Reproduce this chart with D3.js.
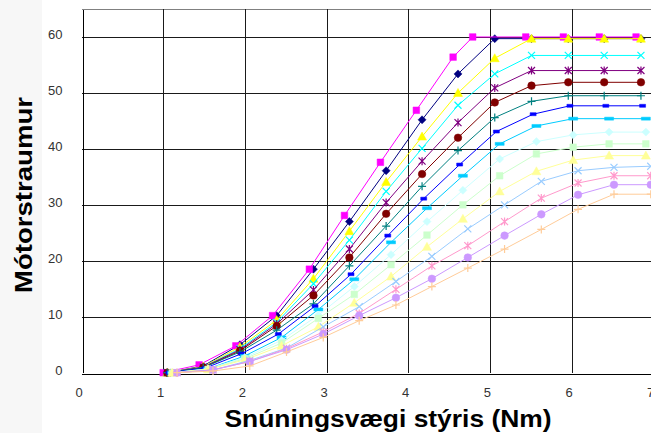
<!DOCTYPE html>
<html>
<head>
<meta charset="utf-8">
<script src="https://cdn.jsdelivr.net/npm/d3@7"></script>
<style>
  body { margin: 0; background: #fff; }
  svg { display: block; }
  .tick text { font-family: "Liberation Sans", Arial, sans-serif; font-size: 13px; fill: #333; }
  .title { font-family: "Liberation Sans", Arial, sans-serif; font-weight: bold; font-size: 24px; fill: #000; }
</style>
</head>
<body>
<svg id="chart" width="651" height="433"></svg>
<script>
// torque (Nm) at which each group of series was sampled
var torqueA = [1.00, 1.44, 1.89, 2.34, 2.79, 3.22, 3.66, 4.10, 4.55, 4.79, 5.44, 5.90, 6.34, 6.79]
var torqueB = [1.05, 1.49, 1.94, 2.39, 2.84, 3.28, 3.73, 4.17, 4.61, 5.06, 5.51, 5.96, 6.40, 6.85]
var torqueC = [1.07, 1.51, 1.96, 2.41, 2.86, 3.30, 3.75, 4.19, 4.63, 5.08, 5.53, 5.98, 6.42, 6.87]
var torqueD = [1.11, 1.55, 2.00, 2.45, 2.90, 3.34, 3.79, 4.23, 4.67, 5.12, 5.57, 6.02, 6.46, 6.91]
var torqueE = [1.17, 1.61, 2.06, 2.51, 2.96, 3.40, 3.85, 4.29, 4.73, 5.18, 5.63, 6.08, 6.52, 6.97]

// motor current, one list per series (Excel order)
var navyVals     = [0, 1.2, 5.0, 10.2, 18.5, 27.0, 36.1, 45.2, 53.4, 59.7, 59.7, 59.7, 59.7, 59.7]
var magentaVals  = [0, 1.4, 4.8, 10.2, 18.5, 28.1, 37.6, 46.9, 56.4, 60.0, 60.0, 60.0, 60.0, 60.0]
var yellowVals   = [0, 1.1, 4.6, 9.4, 16.8, 25.3, 34.1, 42.2, 50.0, 56.2, 59.7, 59.7, 59.7, 59.7]
var cyanVals     = [0, 1.0, 4.3, 9.0, 15.9, 23.7, 32.4, 40.1, 47.8, 53.4, 56.7, 56.7, 56.7, 56.7]
var purpleVals   = [0, 1.0, 4.1, 8.7, 14.8, 22.1, 30.4, 37.8, 44.7, 50.9, 54.0, 54.0, 54.0, 54.0]
var maroonVals   = [0, 0.9, 3.9, 8.35, 13.8, 20.6, 28.4, 35.5, 42.0, 48.3, 51.3, 51.9, 51.9, 51.9]
var tealVals     = [0, 0.9, 3.7, 7.6, 12.3, 19.1, 26.2, 33.3, 39.7, 45.6, 48.5, 49.5, 49.5, 49.5]
var blueVals     = [0, 0.8, 3.4, 6.9, 11.9, 17.6, 24.5, 31.1, 37.2, 43.1, 46.2, 47.7, 47.7, 47.7]
var skyVals      = [0, 0.7, 3.0, 6.3, 11.3, 16.7, 23.3, 29.4, 35.2, 40.9, 44.1, 45.4, 45.4, 45.4]
var lightCyanVals= [0, 0.7, 2.7, 5.8, 10.3, 15.4, 21.1, 27.0, 32.6, 38.2, 41.3, 42.5, 43.0, 43.0]
var lightGreenVals=[0, 0.6, 2.5, 5.3, 9.7, 14.0, 19.3, 24.6, 30.0, 35.2, 39.1, 40.3, 40.9, 40.9]
var lightYellowVals=[0, 0.6, 2.3, 4.8, 8.2, 12.5, 17.2, 22.5, 27.5, 32.4, 36.0, 38.0, 38.8, 38.8]
var paleBlueVals = [0, 0.5, 2.2, 4.4, 8.2, 11.8, 16.3, 20.8, 25.7, 30.0, 34.2, 36.1, 36.7, 36.9]
var roseVals     = [0, 0.5, 2.0, 4.3, 7.3, 10.6, 14.9, 19.1, 22.7, 27.0, 31.2, 33.9, 35.2, 35.2]
var lavenderVals = [0, 0.5, 2.0, 4.1, 6.9, 10.2, 13.4, 16.8, 20.6, 24.5, 28.3, 31.8, 33.6, 33.6]
var tanVals      = [0, 0.3, 1.2, 3.7, 6.3, 9.3, 12.1, 15.4, 18.7, 22.1, 25.6, 29.2, 31.9, 31.9]

var xTicks = [0, 1, 2, 3, 4, 5, 6, 7]
var yTicks = [0, 10, 20, 30, 40, 50, 60]

var series = [
  {x: torqueB, y: navyVals,        color: "#000080", marker: "diamond"},
  {x: torqueA, y: magentaVals,     color: "#FF00FF", marker: "square"},
  {x: torqueB, y: yellowVals,      color: "#FFFF00", marker: "triangle"},
  {x: torqueB, y: cyanVals,        color: "#00FFFF", marker: "x"},
  {x: torqueB, y: purpleVals,      color: "#800080", marker: "star"},
  {x: torqueB, y: maroonVals,      color: "#800000", marker: "circle"},
  {x: torqueB, y: tealVals,        color: "#008080", marker: "plus"},
  {x: torqueC, y: blueVals,        color: "#0000FF", marker: "dash"},
  {x: torqueD, y: skyVals,         color: "#00CCFF", marker: "longdash"},
  {x: torqueD, y: lightCyanVals,   color: "#CCFFFF", marker: "diamond"},
  {x: torqueD, y: lightGreenVals,  color: "#CCFFCC", marker: "square"},
  {x: torqueD, y: lightYellowVals, color: "#FFFF99", marker: "triangle"},
  {x: torqueE, y: paleBlueVals,    color: "#99CCFF", marker: "x"},
  {x: torqueE, y: roseVals,        color: "#FF99CC", marker: "star"},
  {x: torqueE, y: lavenderVals,    color: "#CC99FF", marker: "circle"},
  {x: torqueE, y: tanVals,         color: "#FFCC99", marker: "plus"}
]

var markerPaths = {
  diamond:  "M0,-4L4,0L0,4L-4,0Z",
  square:   "M-3.3,-3.3H3.3V3.3H-3.3Z",
  triangle: "M0,-4.5L4.5,3.5H-4.5Z",
  x:        "M-3.5,-3.5L3.5,3.5M-3.5,3.5L3.5,-3.5",
  star:     "M-3.5,-3.5L3.5,3.5M-3.5,3.5L3.5,-3.5M0,-4V4",
  circle:   "M3.8,0A3.8,3.8 0 1,1 -3.8,0A3.8,3.8 0 1,1 3.8,0Z",
  plus:     "M-4,0H4M0,-4V4",
  dash:     "M-3,-1.5H3V1.5H-3Z",
  longdash: "M-4.5,-1.5H4.5V1.5H-4.5Z"
}
var strokeOnly = {x: true, star: true, plus: true}

var svg = d3.select("#chart")
var x = d3.scaleLinear().domain([0, 7]).range([81.5, 653.2])
var y = d3.scaleLinear().domain([0, 65]).range([372.7, 9])

// light band on the far left
svg.append("rect").attr("x", 0).attr("y", 0).attr("width", 42).attr("height", 433).attr("fill", "#f7f7f7")

// grid
var grid = svg.append("g").attr("shape-rendering", "crispEdges")
grid.selectAll(".hg").data(yTicks.slice(1).concat([65])).enter().append("line")
  .attr("x1", x(0)).attr("x2", 651)
  .attr("y1", function(d) { return Math.round(y(d)) + 0.5 })
  .attr("y2", function(d) { return Math.round(y(d)) + 0.5 })
  .attr("stroke", function(d) { return d == 65 ? "#808080" : "#1a1a1a" })
grid.selectAll(".vg").data(xTicks.slice(1)).enter().append("line")
  .attr("y1", y(65)).attr("y2", y(0))
  .attr("x1", function(d) { return Math.round(x(d)) + 0.5 })
  .attr("x2", function(d) { return Math.round(x(d)) + 0.5 })
  .attr("stroke", "#1a1a1a")

// axes
var yAxis = svg.append("g")
  .attr("transform", "translate(" + (Math.round(x(0)) + 0.5) + ",0)")
  .call(d3.axisLeft(y).tickValues(yTicks).tickFormat(d3.format("d")).tickSize(0).tickPadding(20))
yAxis.select(".domain").attr("stroke", "#000").attr("shape-rendering", "crispEdges")
yAxis.selectAll(".tick text").attr("dy", "0.1em")

var xAxis = svg.append("g")
  .attr("transform", "translate(0," + (Math.round(y(0)) + 0.5) + ")")
  .call(d3.axisBottom(x).tickValues(xTicks).tickFormat(d3.format("d")).tickSize(0).tickPadding(14))
xAxis.select(".domain").attr("stroke", "#000").attr("shape-rendering", "crispEdges")
xAxis.selectAll(".tick text").attr("dx", "-3")

// series lines then markers, in series order
var line = d3.line()
  .x(function(d) { return x(d[0]) })
  .y(function(d) { return y(d[1]) })

series.forEach(function(s) {
  var pts = s.x.map(function(v, i) { return [v, s.y[i]] })
  var g = svg.append("g")
  g.append("path").datum(pts)
    .attr("d", line)
    .attr("fill", "none")
    .attr("stroke", s.color)
    .attr("stroke-width", 1)
  g.selectAll("path.mk").data(pts).enter().append("path")
    .attr("class", "mk")
    .attr("transform", function(d) { return "translate(" + x(d[0]) + "," + y(d[1]) + ")" })
    .attr("d", markerPaths[s.marker])
    .attr("fill", strokeOnly[s.marker] ? "none" : s.color)
    .attr("stroke", s.color)
    .attr("stroke-width", strokeOnly[s.marker] ? 1.2 : 0.5)
})

// titles
svg.append("text").attr("class", "title")
  .attr("x", 388).attr("y", 427)
  .attr("text-anchor", "middle")
  .attr("textLength", 327).attr("lengthAdjust", "spacingAndGlyphs")
  .text("Snúningsvægi stýris (Nm)")

svg.append("text").attr("class", "title")
  .attr("transform", "translate(32,195) rotate(-90)")
  .attr("text-anchor", "middle")
  .attr("textLength", 196).attr("lengthAdjust", "spacingAndGlyphs")
  .text("Mótorstraumur")
</script>
</body>
</html>
